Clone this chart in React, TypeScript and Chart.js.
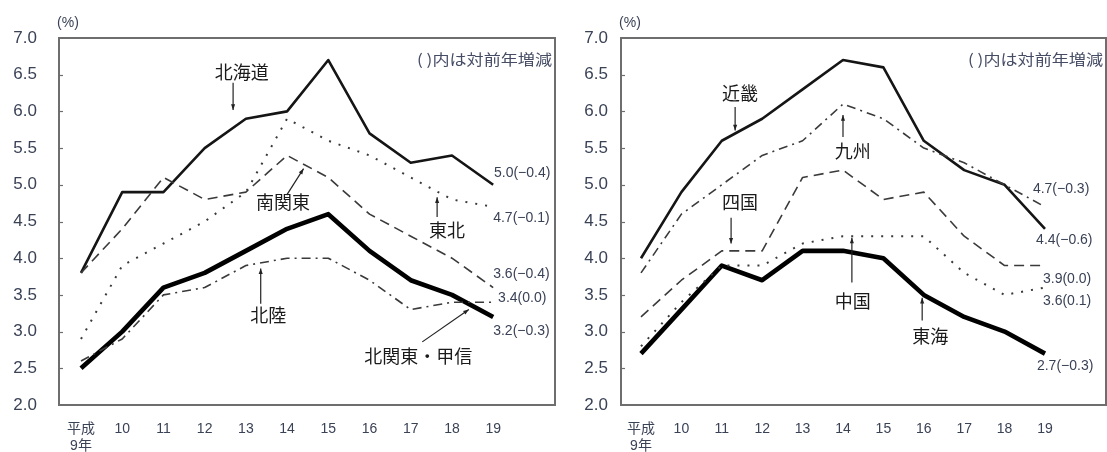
import React, { useEffect, useRef } from 'react';
import { Chart, registerables } from 'chart.js';

Chart.register(...registerables);

// ---------- data ----------
const yearLabels: (string | string[])[] = [['平成', '9年'], '10', '11', '12', '13', '14', '15', '16', '17', '18', '19'];

// left panel
const hokkaido = [3.8, 4.9, 4.9, 5.5, 5.9, 6.0, 6.7, 5.7, 5.3, 5.4, 5.0];
const tohoku = [2.9, 3.9, 4.2, 4.5, 4.9, 5.9, 5.6, 5.4, 5.1, 4.8, 4.7];
const minamiKanto = [3.8, 4.4, 5.1, 4.8, 4.9, 5.4, 5.1, 4.6, 4.3, 4.0, 3.6];
const kitaKantoKoshin = [2.5, 3.0, 3.6, 3.8, 4.1, 4.4, 4.6, 4.1, 3.7, 3.5, 3.2];
const hokuriku = [2.6, 2.9, 3.5, 3.6, 3.9, 4.0, 4.0, 3.7, 3.3, 3.4, 3.4];

// right panel
const kinki = [4.0, 4.9, 5.6, 5.9, 6.3, 6.7, 6.6, 5.6, 5.2, 5.0, 4.4];
const kyushu = [3.8, 4.6, 5.0, 5.4, 5.6, 6.1, 5.9, 5.5, 5.3, 5.0, 4.7];
const shikoku = [3.2, 3.7, 4.1, 4.1, 5.1, 5.2, 4.8, 4.9, 4.3, 3.9, 3.9];
const chugoku = [2.8, 3.4, 3.9, 3.9, 4.2, 4.3, 4.3, 4.3, 3.8, 3.5, 3.6];
const tokai = [2.7, 3.3, 3.9, 3.7, 4.1, 4.1, 4.0, 3.5, 3.2, 3.0, 2.7];

const leftEndLabels = ['5.0(−0.4)', '4.7(−0.1)', '3.6(−0.4)', '3.4(0.0)', '3.2(−0.3)'];
const rightEndLabels = ['4.7(−0.3)', '4.4(−0.6)', '3.9(0.0)', '3.6(0.1)', '2.7(−0.3)'];

const unitLabel = '(%)';
const noteLabel = '( )内は対前年増減';

// ---------- styles ----------
type StyleKey = 'solid' | 'thick' | 'dashed' | 'dotted' | 'dashdot';
const lineStyles: Record<StyleKey, any> = {
  solid: { borderColor: '#151515', borderWidth: 2.6, borderDash: [] },
  thick: { borderColor: '#000000', borderWidth: 4.6, borderDash: [] },
  dashed: { borderColor: '#3a3a3a', borderWidth: 1.6, borderDash: [10, 6] },
  dotted: { borderColor: '#3a3a3a', borderWidth: 2, borderDash: [2, 8] },
  dashdot: { borderColor: '#3a3a3a', borderWidth: 1.6, borderDash: [9, 5, 2, 5] },
};

const FONT = "'Liberation Sans', 'Noto Sans CJK JP', sans-serif";
const CJK = "'Noto Sans CJK JP', sans-serif";
const TICK_COLOR = '#3a4256';

type Series = { name: string; values: number[]; style: StyleKey };
type Label = { text: string; x: number; y: number };
type Arrow = { x1: number; y1: number; x2: number; y2: number };

type Panel = {
  series: Series[];
  names: Label[];
  arrows: Arrow[];
  endLabels: string[];
  endPos: { x: number; y: number }[];
  xMin: number;
  xMax: number;
  axisWidth: number;
  labelPad: number;
  rightPad: number;
};

const leftPanel: Panel = {
  series: [
    { name: '東北', values: tohoku, style: 'dotted' },
    { name: '南関東', values: minamiKanto, style: 'dashed' },
    { name: '北陸', values: hokuriku, style: 'dashdot' },
    { name: '北海道', values: hokkaido, style: 'solid' },
    { name: '北関東・甲信', values: kitaKantoKoshin, style: 'thick' },
  ],
  names: [
    { text: '北海道', x: 3.9, y: 6.54 },
    { text: '南関東', x: 4.9, y: 4.76 },
    { text: '東北', x: 8.88, y: 4.38 },
    { text: '北陸', x: 4.54, y: 3.23 },
    { text: '北関東・甲信', x: 8.18, y: 2.67 },
  ],
  arrows: [
    { x1: 3.69, y1: 6.39, x2: 3.69, y2: 6.02 },
    { x1: 4.99, y1: 4.86, x2: 5.4, y2: 5.22 },
    { x1: 8.64, y1: 4.56, x2: 8.64, y2: 4.83 },
    { x1: 4.36, y1: 3.38, x2: 4.36, y2: 3.86 },
    { x1: 8.28, y1: 2.86, x2: 9.41, y2: 3.3 },
  ],
  endLabels: leftEndLabels,
  endPos: [
    { x: 10.02, y: 5.16 },
    { x: 10.0, y: 4.54 },
    { x: 10.0, y: 3.78 },
    { x: 10.12, y: 3.45 },
    { x: 10.0, y: 3.01 },
  ],
  xMin: -0.534,
  xMax: 11.5,
  axisWidth: 59,
  labelPad: 22,
  rightPad: 10,
};

const rightPanel: Panel = {
  series: [
    { name: '中国', values: chugoku, style: 'dotted' },
    { name: '四国', values: shikoku, style: 'dashed' },
    { name: '九州', values: kyushu, style: 'dashdot' },
    { name: '近畿', values: kinki, style: 'solid' },
    { name: '東海', values: tokai, style: 'thick' },
  ],
  names: [
    { text: '近畿', x: 2.45, y: 6.25 },
    { text: '九州', x: 5.24, y: 5.46 },
    { text: '四国', x: 2.45, y: 4.76 },
    { text: '中国', x: 5.24, y: 3.41 },
    { text: '東海', x: 7.16, y: 2.94 },
  ],
  arrows: [
    { x1: 2.33, y1: 6.06, x2: 2.33, y2: 5.74 },
    { x1: 5.0, y1: 5.65, x2: 5.0, y2: 5.95 },
    { x1: 2.23, y1: 4.55, x2: 2.23, y2: 4.2 },
    { x1: 5.22, y1: 3.67, x2: 5.22, y2: 4.28 },
    { x1: 6.96, y1: 3.15, x2: 6.96, y2: 3.46 },
  ],
  endLabels: rightEndLabels,
  endPos: [
    { x: 9.7, y: 4.94 },
    { x: 9.78, y: 4.24 },
    { x: 9.95, y: 3.72 },
    { x: 9.95, y: 3.41 },
    { x: 9.8, y: 2.53 },
  ],
  xMin: -0.495,
  xMax: 11.51,
  axisWidth: 56,
  labelPad: 13,
  rightPad: 1,
};

const HEIGHT = 452;
const PLOT_TOP = 38;
const PLOT_BOTTOM = 405;

function makeDecorPlugin(panel: Panel) {
  return {
    id: 'decor',
    afterDraw(chart: any) {
      const { ctx, chartArea: a, scales } = chart;
      const xs = scales.x;
      const ys = scales.y;
      const px = (v: number) => xs.getPixelForValue(v);
      const py = (v: number) => ys.getPixelForValue(v);
      ctx.save();
      // frame
      ctx.strokeStyle = '#6e6e6e';
      ctx.lineWidth = 2;
      ctx.setLineDash([]);
      ctx.strokeRect(a.left, a.top, a.right - a.left, a.bottom - a.top);
      // inward ticks
      ctx.lineWidth = 1.2;
      for (let v = 2.5; v < 7; v += 0.5) {
        const yy = Math.round(py(v)) + 0.5;
        ctx.beginPath();
        ctx.moveTo(a.left, yy);
        ctx.lineTo(a.left + 4, yy);
        ctx.stroke();
      }
      // unit label
      ctx.fillStyle = TICK_COLOR;
      ctx.font = `14px ${FONT}`;
      ctx.textAlign = 'center';
      ctx.textBaseline = 'middle';
      ctx.fillText(unitLabel, a.left + 9, 23);
      // note
      ctx.font = `15px ${CJK}`;
      const w = ctx.measureText(noteLabel).width;
      const target = 135;
      ctx.save();
      ctx.translate(a.right - 3, 59);
      ctx.scale(target / w, 1);
      ctx.textAlign = 'right';
      ctx.fillStyle = '#454c64';
      ctx.fillText(noteLabel, 0, 0);
      ctx.restore();
      // series names
      ctx.fillStyle = '#1a1a1a';
      ctx.font = `18px ${CJK}`;
      ctx.textAlign = 'center';
      ctx.textBaseline = 'middle';
      panel.names.forEach((n) => ctx.fillText(n.text, px(n.x), py(n.y)));
      // arrows
      ctx.strokeStyle = '#222';
      ctx.fillStyle = '#222';
      ctx.lineWidth = 1.2;
      panel.arrows.forEach((ar) => {
        const x1 = px(ar.x1), y1 = py(ar.y1), x2 = px(ar.x2), y2 = py(ar.y2);
        ctx.beginPath();
        ctx.moveTo(x1, y1);
        ctx.lineTo(x2, y2);
        ctx.stroke();
        const ang = Math.atan2(y2 - y1, x2 - x1);
        const L = 6;
        ctx.beginPath();
        ctx.moveTo(x2, y2);
        ctx.lineTo(x2 - L * Math.cos(ang - 0.35), y2 - L * Math.sin(ang - 0.35));
        ctx.lineTo(x2 - L * Math.cos(ang + 0.35), y2 - L * Math.sin(ang + 0.35));
        ctx.closePath();
        ctx.fill();
      });
      // end labels
      ctx.fillStyle = TICK_COLOR;
      ctx.font = `14px ${FONT}`;
      ctx.textAlign = 'left';
      ctx.textBaseline = 'middle';
      panel.endLabels.forEach((t, i) => {
        const p = panel.endPos[i];
        ctx.fillText(t, px(p.x), py(p.y));
      });
      ctx.restore();
    },
  };
}

function buildChart(canvas: HTMLCanvasElement, panel: Panel) {
  const datasets = panel.series.map((s) => ({
    label: s.name,
    data: s.values.map((v, i) => ({ x: i, y: v })),
    ...lineStyles[s.style],
    borderCapStyle: 'butt',
    borderJoinStyle: 'round',
    pointRadius: 0,
    tension: 0,
    fill: false,
  }));
  return new Chart(canvas, {
    type: 'line',
    data: { datasets },
    options: {
      animation: false,
      responsive: false,
      maintainAspectRatio: false,
      devicePixelRatio: 1,
      layout: { padding: { left: 0, right: panel.rightPad, top: PLOT_TOP, bottom: 0 } },
      plugins: { legend: { display: false }, tooltip: { enabled: false } },
      scales: {
        x: {
          type: 'linear',
          min: panel.xMin,
          max: panel.xMax,
          afterBuildTicks: (s: any) => {
            s.ticks = yearLabels.map((_, i) => ({ value: i }));
          },
          afterFit: (s: any) => {
            s.height = HEIGHT - PLOT_BOTTOM;
          },
          grid: { display: false, drawTicks: false },
          border: { display: false },
          ticks: {
            autoSkip: false,
            maxRotation: 0,
            padding: 16,
            color: TICK_COLOR,
            font: { family: FONT, size: 14 },
            callback: (v: any) => yearLabels[Math.round(v)] ?? '',
          },
        },
        y: {
          min: 2,
          max: 7,
          afterFit: (s: any) => {
            s.width = panel.axisWidth;
          },
          grid: { display: false, drawTicks: false },
          border: { display: false },
          ticks: {
            stepSize: 0.5,
            padding: panel.labelPad,
            color: TICK_COLOR,
            font: { family: FONT, size: 17 },
            callback: (v: any) => Number(v).toFixed(1),
          },
        },
      },
    } as any,
    plugins: [makeDecorPlugin(panel)],
  });
}

export default function App() {
  const leftRef = useRef<HTMLCanvasElement>(null);
  const rightRef = useRef<HTMLCanvasElement>(null);

  useEffect(() => {
    const c1 = buildChart(leftRef.current!, leftPanel);
    const c2 = buildChart(rightRef.current!, rightPanel);
    return () => {
      c1.destroy();
      c2.destroy();
    };
  }, []);

  return (
    <div style={{ position: 'absolute', left: 0, top: 0, width: 1107, height: HEIGHT, background: '#fff', overflow: 'hidden' }}>
      <canvas ref={leftRef} width={565} height={HEIGHT} style={{ position: 'absolute', left: 0, top: 0, width: 565, height: HEIGHT }} />
      <canvas ref={rightRef} width={542} height={HEIGHT} style={{ position: 'absolute', left: 565, top: 0, width: 542, height: HEIGHT }} />
    </div>
  );
}
